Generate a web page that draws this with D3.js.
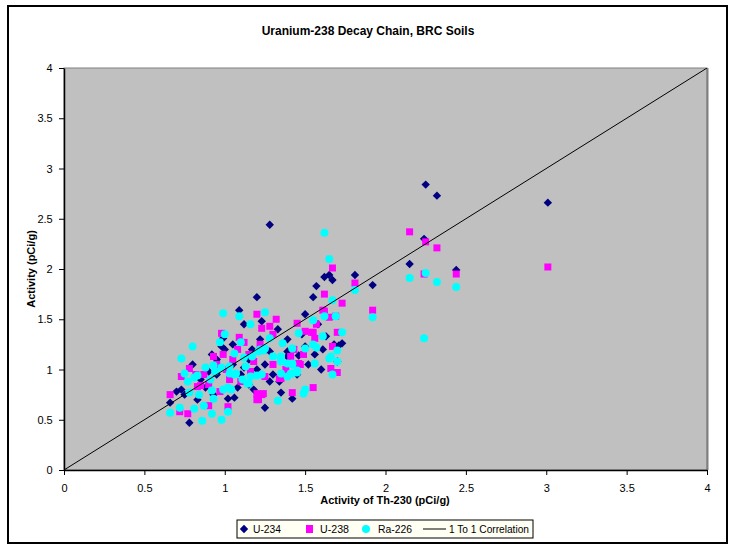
<!DOCTYPE html>
<html><head><meta charset="utf-8">
<script src="https://cdn.jsdelivr.net/npm/d3@7"></script>
<style>body{margin:0;background:#fff}svg{display:block;font-family:"Liberation Sans",Arial,sans-serif}</style>
</head><body><svg id="c" width="736" height="546"></svg>
<script>
const title = "Uranium-238 Decay Chain, BRC Soils";
const xTitle = "Activity of Th-230 (pCi/g)";
const yTitle = "Activity (pCi/g)";
const xTicks = [0,0.5,1,1.5,2,2.5,3,3.5,4];
const yTicks = [0,0.5,1,1.5,2,2.5,3,3.5,4];
const seriesNames = ["U-234","U-238","Ra-226","1 To 1 Correlation"];
const oneToOne = [[0,0],[4,4]];

const u234 = [[1.28,2.44],[2.25,2.84],[2.32,2.73],[3.01,2.66],[2.24,2.30],[2.15,2.05],[2.44,1.99],
[1.62,1.92],[1.65,1.94],[1.67,1.89],[1.81,1.94],[1.92,1.84],[1.57,1.83],[1.55,1.72],[1.50,1.55],[1.39,1.30],
[1.73,1.26],[1.68,1.25],[1.61,1.20],[1.56,1.15],[1.35,0.77],[1.20,1.72],[1.09,1.59],[1.12,1.45],[1.23,1.48],
[0.99,1.31],[0.98,1.23],[1.17,1.20],[1.28,1.18],[1.39,1.13],[1.46,1.14],[0.80,1.05],[1.02,0.71],[1.08,0.82],
[0.78,0.47],[1.25,0.62],[1.42,0.71],[1.34,0.88],[0.73,0.80],[0.75,0.75],[0.66,0.67],[1.58,1.45],[1.50,1.23],
[1.39,1.18],[1.26,1.20],[1.70,1.08],[1.71,1.24],[0.85,0.90],[0.90,0.98],[0.95,1.10],[1.00,1.20],[1.05,1.05],
[1.10,0.95],[1.15,1.10],[1.20,1.00],[1.25,1.05],[1.30,0.95],[0.88,0.82],[0.93,0.75],[1.15,0.85],[1.45,0.95],
[1.52,1.05],[1.60,1.00],[1.05,1.25],[0.95,0.95],[1.22,1.30],[1.33,1.40],[0.92,1.15],[1.28,0.88],[1.12,1.02],
[0.83,0.70],[1.48,1.35],[1.63,1.33],[1.06,0.72],[1.18,0.80],[0.70,0.78]];

const u238 = [[2.15,2.37],[2.25,2.27],[2.32,2.21],[2.24,1.95],[2.44,1.95],[3.01,2.02],[1.67,2.01],[1.81,1.86],
[1.62,1.75],[1.73,1.66],[1.61,1.59],[1.65,1.52],[1.92,1.59],[1.45,1.46],[1.57,1.45],[1.50,1.38],[1.55,1.37],
[1.70,1.37],[1.56,1.31],[1.67,1.23],[1.49,1.15],[1.41,1.13],[1.46,1.06],[1.66,1.01],[1.70,0.97],[1.35,0.91],
[1.55,0.82],[1.42,0.77],[1.20,1.55],[1.32,1.50],[1.23,1.41],[1.28,1.43],[1.30,1.35],[0.98,1.36],[1.09,1.32],
[1.12,1.27],[1.22,1.25],[1.43,1.20],[0.93,1.13],[0.99,1.15],[1.47,1.05],[1.34,0.91],[0.78,1.01],[0.83,0.83],
[1.01,1.00],[0.87,0.95],[1.16,0.98],[1.25,0.93],[1.20,0.76],[1.23,0.75],[1.20,0.70],[0.90,0.64],[1.02,0.63],
[0.77,0.56],[0.66,0.75],[0.73,0.93],[0.72,0.58],[0.85,0.84],[1.03,0.90],[1.24,0.76],[1.21,0.70],[1.62,1.58],
[1.69,1.53],[1.54,1.37],[0.95,1.05],[1.05,1.10],[1.15,1.15],[0.90,0.85],[1.10,0.88],[0.97,0.78],[1.30,1.05],
[1.38,1.00],[1.08,1.20],[0.82,0.95],[1.18,1.08]];

const ra226 = [[2.24,1.31],[2.15,1.91],[2.25,1.96],[2.32,1.87],[2.44,1.82],[1.62,2.36],[1.65,2.10],[1.81,1.79],
[1.67,1.69],[1.69,1.53],[1.92,1.52],[1.55,1.49],[1.46,1.36],[1.73,1.37],[1.61,1.33],[1.36,1.26],[1.70,1.19],
[1.55,1.25],[1.57,1.22],[1.50,1.21],[1.42,1.21],[1.66,1.13],[1.35,1.13],[1.70,1.08],[1.39,1.06],[1.42,1.06],
[1.56,1.06],[1.67,0.95],[1.45,0.98],[1.42,0.96],[1.39,0.93],[1.50,0.80],[1.49,0.76],[0.99,1.56],[1.09,1.53],
[1.25,1.57],[1.16,1.45],[1.28,1.31],[1.00,1.35],[1.10,1.27],[0.97,1.27],[0.80,1.23],[0.73,1.11],[1.06,1.16],
[1.12,1.12],[1.17,1.13],[1.22,1.20],[1.25,1.21],[1.30,1.13],[1.35,1.12],[1.42,1.05],[1.45,0.99],[1.35,1.08],
[0.75,0.96],[0.81,0.92],[0.77,0.88],[0.88,1.02],[0.93,1.04],[0.94,0.98],[0.98,1.02],[1.03,0.96],[0.91,0.90],
[0.92,0.79],[0.84,0.75],[1.06,0.95],[1.11,0.90],[1.16,0.93],[1.20,0.94],[1.14,0.86],[1.02,0.82],[1.04,0.80],
[0.93,0.71],[0.87,0.64],[1.02,0.58],[0.81,0.61],[0.92,0.56],[0.86,0.49],[0.98,0.50],[0.72,0.62],[1.33,0.69],
[1.23,0.95],[1.35,0.96],[1.41,0.96],[1.45,0.97],[1.03,1.03],[1.13,1.03],[1.15,0.86],[0.78,0.77],[0.66,0.57],
[1.62,1.53],[1.21,1.18],[1.24,1.19],[1.65,1.11],[0.99,0.80],[1.07,0.96],[0.83,0.94]];

const svg = d3.select("#c");
const M = {l:64, t:68, r:707, b:470};
const x = d3.scaleLinear().domain([0,4]).range([M.l, M.r]);
const y = d3.scaleLinear().domain([0,4]).range([M.b, M.t]);

// outer frame
svg.append("rect").attr("x",8).attr("y",6).attr("width",719).attr("height",537)
  .attr("fill","#fff").attr("stroke","#000").attr("stroke-width",2);

svg.append("text").attr("x",368).attr("y",35).attr("text-anchor","middle")
  .attr("font-size",12).attr("font-weight","bold").text(title);

// plot area
svg.append("rect").attr("x",M.l).attr("y",M.t).attr("width",M.r-M.l).attr("height",M.b-M.t)
  .attr("fill","#c0c0c0").attr("stroke","#808080").attr("stroke-width",1);
svg.append("line").attr("x1",M.r+0.5).attr("x2",M.r+0.5).attr("y1",M.t).attr("y2",M.b)
  .attr("stroke","#808080").attr("stroke-width",2);

svg.append("clipPath").attr("id","pc").append("rect")
  .attr("x",M.l).attr("y",M.t).attr("width",M.r-M.l).attr("height",M.b-M.t);

const xAxis = svg.append("g").attr("transform",`translate(0,${M.b})`)
  .call(d3.axisBottom(x).tickValues(xTicks).tickSize(5).tickSizeOuter(0).tickFormat(d3.format("")));
const yAxis = svg.append("g").attr("transform",`translate(${M.l},0)`)
  .call(d3.axisLeft(y).tickValues(yTicks).tickSize(5).tickSizeOuter(0).tickFormat(d3.format("")));
[xAxis,yAxis].forEach(a=>{
  a.select(".domain").attr("stroke","#000").attr("stroke-width",1.5);
  a.selectAll(".tick line").attr("stroke","#000");
  a.selectAll("text").attr("font-size",11).attr("fill","#000").attr("font-family","Liberation Sans, Arial, sans-serif");
});
xAxis.selectAll("text").attr("dy","1.3em");
yAxis.selectAll("text").attr("dx","-0.3em");

svg.append("text").attr("x",385).attr("y",504).attr("text-anchor","middle")
  .attr("font-size",11).attr("font-weight","bold").text(xTitle);
svg.append("text").attr("transform",`translate(35,${(M.t+M.b)/2}) rotate(-90)`).attr("text-anchor","middle")
  .attr("font-size",11).attr("font-weight","bold").text(yTitle);

const g = svg.append("g").attr("clip-path","url(#pc)");
const dpath = "M0,-4.2L4.2,0L0,4.2L-4.2,0Z";

g.selectAll(".u234").data(u234).join("path").attr("class","u234")
  .attr("d",dpath).attr("transform",d=>`translate(${x(d[0])},${y(d[1])})`).attr("fill","#000080");
g.selectAll(".u238").data(u238).join("rect").attr("class","u238")
  .attr("x",d=>x(d[0])-3.5).attr("y",d=>y(d[1])-3.5).attr("width",7).attr("height",7).attr("fill","#ff00ff");
g.selectAll(".ra").data(ra226).join("circle").attr("class","ra")
  .attr("cx",d=>x(d[0])).attr("cy",d=>y(d[1])).attr("r",4).attr("fill","#00ffff");

g.append("path").datum(oneToOne).attr("d",d3.line().x(d=>x(d[0])).y(d=>y(d[1])))
  .attr("stroke","#000").attr("stroke-width",1).attr("fill","none");

// legend
const L = svg.append("g");
L.append("rect").attr("x",237).attr("y",520).attr("width",296).attr("height",18)
  .attr("fill","#fffff4").attr("stroke","#000").attr("stroke-width",1);
const ly = 529;
const lt = (xx,w,s)=>L.append("text").attr("x",xx).attr("y",ly+4).attr("font-size",11)
  .attr("textLength",w).attr("lengthAdjust","spacingAndGlyphs").text(s);
L.append("path").attr("d",dpath).attr("transform",`translate(244,${ly})`).attr("fill","#000080");
lt(253,28,seriesNames[0]);
L.append("rect").attr("x",306).attr("y",ly-4).attr("width",7).attr("height",8).attr("fill","#ff00ff");
lt(320,29,seriesNames[1]);
L.append("circle").attr("cx",366).attr("cy",ly).attr("r",4).attr("fill","#00ffff");
lt(378,34,seriesNames[2]);
L.append("line").attr("x1",423).attr("x2",446).attr("y1",ly).attr("y2",ly).attr("stroke","#000");
lt(449,80,seriesNames[3]);
</script></body></html>
